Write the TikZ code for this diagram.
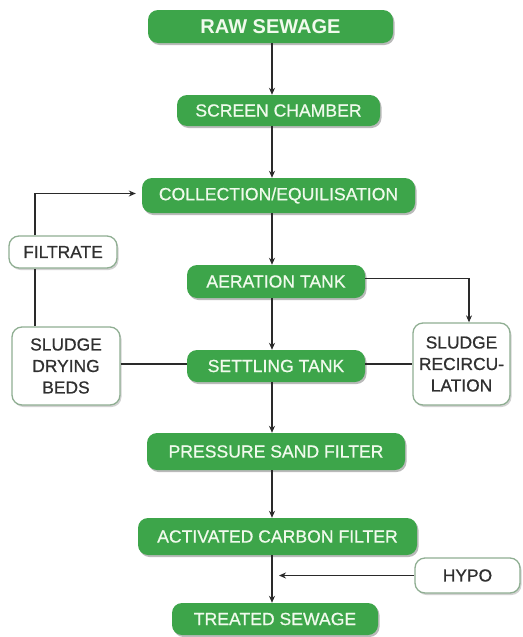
\documentclass[tikz,border=0pt]{standalone}
\usepackage{fontspec}
\setmainfont{Liberation Sans}
\newfontfamily\lblfont{Liberation Sans}[FakeBold=0.7]
\usetikzlibrary{arrows.meta,shadows}
\definecolor{boxgreen}{HTML}{3DA54A}
\definecolor{gtext}{HTML}{F0FAEC}
\definecolor{wborder}{HTML}{8FAE92}
\definecolor{wtext}{HTML}{303030}
\definecolor{linec}{HTML}{2A2A2A}
\tikzset{
  gbox/.style={rectangle, rounded corners=10pt, fill=boxgreen, draw=none,
    text=gtext, inner sep=0pt, align=center,
    font=\lblfont\fontsize{17.6}{21.5}\selectfont,
    drop shadow={shadow xshift=1.5pt, shadow yshift=-2pt, fill=black!45, opacity=0.6}},
  wbox/.style={rectangle, rounded corners=10pt, fill=white, draw=wborder, line width=1.3pt,
    text=wtext, inner sep=0pt, align=center,
    font=\lblfont\fontsize{17.4}{21.5}\selectfont,
    drop shadow={shadow xshift=1.5pt, shadow yshift=-2pt, fill=black!35, opacity=0.5}},
  conn/.style={draw=linec, line width=1.1pt},
  arr/.style={conn, -{Stealth[length=7pt,width=6pt]}}
}
\begin{document}
\begin{tikzpicture}[x=1pt,y=-1pt]
\useasboundingbox (0,0) rectangle (522,637);
\coordinate (mx) at (272,0);
\coordinate (lx) at (35,0);
\coordinate (rx) at (469,0);
\coordinate (hx) at (279,0);

\node[gbox, minimum width=245pt, minimum height=33pt, font=\fontsize{20}{22}\selectfont\bfseries] (raw) at (270.5,26.5) {RAW SEWAGE};
\node[gbox, minimum width=203pt, minimum height=31pt] (screen) at (278.5,110.5) {SCREEN CHAMBER};
\node[gbox, minimum width=273pt, minimum height=35pt] (coll) at (278.5,195.5) {COLLECTION/EQUILISATION};
\node[gbox, minimum width=178pt, minimum height=33pt] (aer) at (276,281.5) {AERATION TANK};
\node[gbox, minimum width=178pt, minimum height=32pt] (settle) at (276,366) {SETTLING TANK};
\node[gbox, minimum width=258pt, minimum height=37pt] (psf) at (276,451.5) {PRESSURE SAND FILTER};
\node[gbox, minimum width=279pt, minimum height=37pt] (acf) at (277.5,536.5) {ACTIVATED CARBON FILTER};
\node[gbox, minimum width=206pt, minimum height=32pt] (treated) at (275,619) {TREATED SEWAGE};

\node[wbox, minimum width=108pt, minimum height=32pt] (filtrate) at (63,252) {FILTRATE};
\node[wbox, minimum width=108pt, minimum height=78pt] (drying) at (66,366) {SLUDGE\\DRYING\\BEDS};
\node[wbox, minimum width=97pt, minimum height=82pt] (recirc) at (461.5,364) {SLUDGE\\RECIRCU-\\LATION};
\node[wbox, minimum width=105pt, minimum height=35pt] (hypo) at (467.5,575.5) {HYPO};

\draw[arr] (raw.south -| mx) -- (screen.north -| mx);
\draw[arr] (screen.south -| mx) -- (coll.north -| mx);
\draw[arr] (coll.south -| mx) -- (aer.north -| mx);
\draw[arr] (aer.south -| mx) -- (settle.north -| mx);
\draw[arr] (settle.south -| mx) -- (psf.north -| mx);
\draw[arr] (psf.south -| mx) -- (acf.north -| mx);
\draw[arr] (acf.south -| mx) -- (treated.north -| mx);

\draw[conn] (drying.north -| lx) -- (filtrate.south -| lx);
\draw[arr] (filtrate.north -| lx) |- ([xshift=-6pt,yshift=2pt]coll.west);
\draw[arr] ([yshift=3pt]aer.east) -| (recirc.north -| rx);
\draw[conn] ([yshift=2pt]drying.east) -- ([yshift=2pt]settle.west);
\draw[conn] ([yshift=2pt]settle.east) -- (recirc.west);
\draw[arr] (hypo.west) -- (hypo.west -| hx);
\end{tikzpicture}
\end{document}
